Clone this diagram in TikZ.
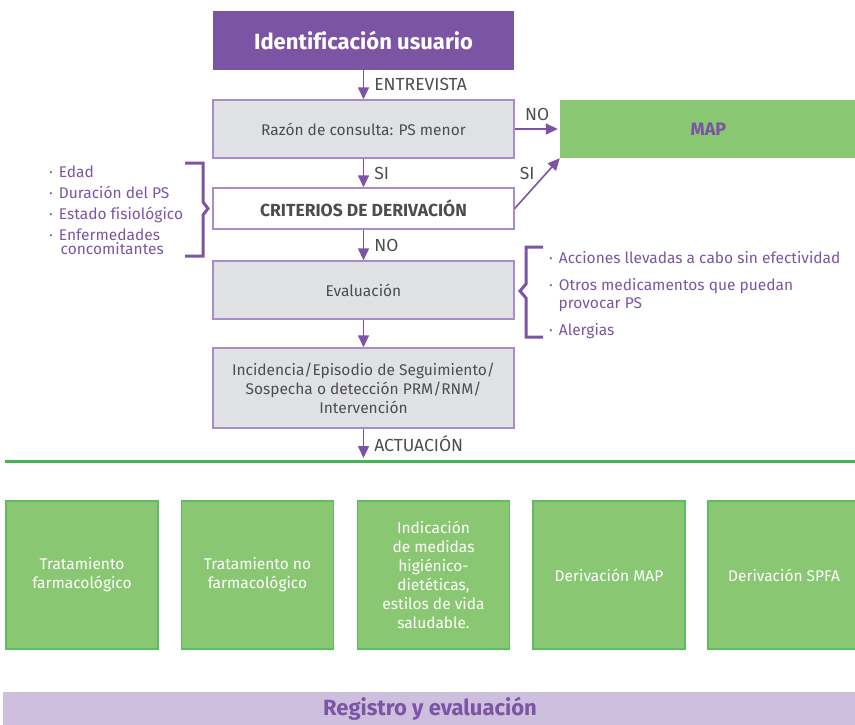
\documentclass[tikz,border=0pt]{standalone}
\usepackage{fontspec}
\setmainfont[Ligatures={NoCommon}]{Fira Sans}
\usetikzlibrary{arrows.meta}
\definecolor{purp}{HTML}{7B55A3}
\definecolor{boxline}{HTML}{A98CC9}
\definecolor{boxgray}{HTML}{DFE1E4}
\definecolor{txt}{HTML}{4D4D4F}
\definecolor{grfill}{HTML}{8AC772}
\definecolor{grline}{HTML}{5CBD62}
\definecolor{grrule}{HTML}{45B54E}
\definecolor{lav}{HTML}{CDBFDD}
\definecolor{listc}{HTML}{7B55A3}
\tikzset{
  graybox/.style={draw=boxline, line width=1.4pt, fill=boxgray, text=txt, minimum width=301pt,
    font=\fontsize{15.5}{19}\selectfont, align=center, inner sep=0pt},
  whitebox/.style={draw=boxline, line width=1.4pt, fill=white, text=txt, minimum width=301pt,
    font=\bfseries\fontsize{17.5}{20}\selectfont, align=center, inner sep=0pt},
  greenbox/.style={draw=grline, line width=1.4pt, fill=grfill, text=white, minimum width=152pt,
    minimum height=148pt, font=\fontsize{15.5}{19}\selectfont, align=center, inner sep=0pt},
  arr/.style={draw=purp, line width=1.6pt, -{Triangle[length=12pt,width=11pt]}},
  lbl/.style={text=txt, font=\fontsize{17.5}{20}\selectfont, inner sep=2pt},
  listitem/.style={text=listc, font=\fontsize{15.5}{18}\selectfont, anchor=base west, inner sep=0pt},
  brace/.style={draw=purp, line width=3pt, line join=miter},
}
\begin{document}
\begin{tikzpicture}[x=1pt,y=-1pt]
\useasboundingbox (0,0) rectangle (855,725);

% main column
\node[fill=purp, text=white, minimum width=301pt, minimum height=59pt, inner sep=0pt,
  font=\bfseries\fontsize{22}{26}\selectfont] (top) at (363.5,40.5) {Identificación usuario};
\node[graybox, minimum height=58pt] (razon) at (363.5,129) {Razón de consulta: PS menor};
\node[fill=grfill, minimum width=297pt, minimum height=58pt, inner sep=0pt, text=purp,
  font=\bfseries\fontsize{18}{21}\selectfont] (map) at (708.5,129) {MAP};
\node[whitebox, minimum height=41pt] (crit) at (363.5,208.5) {CRITERIOS DE DERIVACIÓN};
\node[graybox, minimum height=58pt] (eval) at (363.5,290) {Evaluación};
\node[graybox, minimum height=80pt] (inc) at (363.5,388)
  {Incidencia/Episodio de Seguimiento/\\Sospecha o detección PRM/RNM/\\Intervención};

% connectors
\draw[arr] (top) -- node[lbl, right, xshift=8pt] {ENTREVISTA} (razon);
\draw[arr, shorten >=2pt] (razon.east) -- node[lbl, above, yshift=5pt] {NO} (map.west);
\draw[arr] (razon) -- node[lbl, right, xshift=8pt] {SI} (crit);
\draw[arr] (crit.east) -- node[lbl, pos=0.5, xshift=-10pt, yshift=10pt] {SI} (map.south west);
\draw[arr] (crit) -- node[lbl, right, xshift=8pt] {NO} (eval);
\draw[arr] (eval) -- (inc);
\coordinate (actend) at (363.5,458);
\draw[arr] (inc) -- node[lbl, right, xshift=8pt] {ACTUACIÓN} (actend);

% green rule
\coordinate (gl1) at (5,461);
\coordinate (gl2) at (856,461);
\draw[draw=grrule, line width=3pt] (gl1) -- (gl2);

% left bracket and list
\draw[brace] (185,163) -- (203,163) -- (203,202) -- (208,208.5) -- (203,215) -- (203,256) -- (185,256);
\node[listitem] (l1) at (49,177) {·\hspace{6pt}Edad};
\node[listitem] (l2) at (49,198) {·\hspace{6pt}Duración del PS};
\node[listitem] (l3) at (49,219) {·\hspace{6pt}Estado fisiológico};
\node[listitem] (l4) at (49,240) {·\hspace{6pt}Enfermedades};
\node[listitem] (l5) at (60.5,254) {concomitantes};

% right bracket and list
\draw[brace] (543,247) -- (526,247) -- (526,284) -- (520,291) -- (526,298) -- (526,337) -- (543,337);
\node[listitem] (r1) at (549,263) {·\hspace{6pt}Acciones llevadas a cabo sin efectividad};
\node[listitem] (r2) at (549,290) {·\hspace{6pt}Otros medicamentos que puedan};
\node[listitem] (r3) at (558.5,308) {provocar PS};
\node[listitem] (r4) at (549,335) {·\hspace{6pt}Alergias};

% bottom boxes
\node[greenbox] (b1) at (82,575) {Tratamiento\\farmacológico};
\node[greenbox] (b2) at (257.5,575) {Tratamiento no\\farmacológico};
\node[greenbox] (b3) at (433.5,575) {Indicación\\de medidas\\higiénico-\\dietéticas,\\estilos de vida\\saludable.};
\node[greenbox] (b4) at (609,575) {Derivación MAP};
\node[greenbox] (b5) at (784,575) {Derivación SPFA};

% bottom bar
\node[fill=lav, minimum width=854pt, minimum height=34pt, inner sep=0pt, text=purp,
  font=\bfseries\fontsize{22}{25}\selectfont] (bar) at (430,709) {Registro y evaluación};
\end{tikzpicture}
\end{document}
